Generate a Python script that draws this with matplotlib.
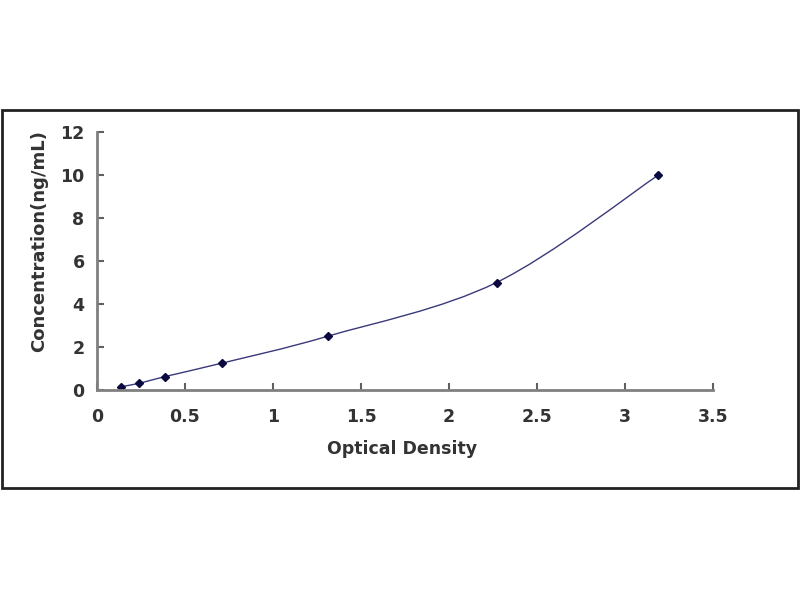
import matplotlib
matplotlib.use("Agg")
import matplotlib.pyplot as plt
from matplotlib.patches import Rectangle, PathPatch
from matplotlib.path import Path

# standard curve points
od = [0.136, 0.24, 0.386, 0.71, 1.31, 2.27, 3.19]
conc = [0.156, 0.312, 0.625, 1.25, 2.5, 5.0, 10.0]

xticks = [0, 0.5, 1, 1.5, 2, 2.5, 3, 3.5]
xtick_labels = ["0", "0.5", "1", "1.5", "2", "2.5", "3", "3.5"]
yticks = [0, 2, 4, 6, 8, 10, 12]

plt.rcParams["font.family"] = ["DejaVu Sans"]
plt.rcParams["font.weight"] = "bold"

fig = plt.figure(figsize=(8, 6), dpi=100)
fig.patches.append(Rectangle((2 / 800, 112 / 600), 796 / 800, 378 / 600,
                             transform=fig.transFigure, fill=False,
                             edgecolor="#222222", linewidth=2))

ax = fig.add_axes([97 / 800, 210 / 600, 616 / 800, 258 / 600])

# smoothed line like a spreadsheet chart (bezier through the points)
verts = [(od[0], conc[0])]
codes = [Path.MOVETO]
n = len(od)
for i in range(n - 1):
    x0, y0 = od[max(i - 1, 0)], conc[max(i - 1, 0)]
    x1, y1 = od[i], conc[i]
    x2, y2 = od[i + 1], conc[i + 1]
    x3, y3 = od[min(i + 2, n - 1)], conc[min(i + 2, n - 1)]
    verts += [(x1 + (x2 - x0) / 6, y1 + (y2 - y0) / 6),
              (x2 - (x3 - x1) / 6, y2 - (y3 - y1) / 6),
              (x2, y2)]
    codes += [Path.CURVE4] * 3
ax.add_patch(PathPatch(Path(verts, codes), fill=False,
                       edgecolor="#3a3a7a", linewidth=1.0))
ax.plot(od, conc, linestyle="none", marker="D", markersize=4,
        markerfacecolor="#0a0a40", markeredgecolor="#0a0a40")

ax.set_xlim(0, 3.5)
ax.set_ylim(0, 12)
ax.set_xticks(xticks)
ax.set_xticklabels(xtick_labels)
ax.set_yticks(yticks)

for side in ["top", "right"]:
    ax.spines[side].set_visible(False)
for side in ["left", "bottom"]:
    ax.spines[side].set_color("#808080")
    ax.spines[side].set_linewidth(2)

ax.tick_params(direction="in", length=5, width=1.5, color="#606060",
               labelsize=12.5, labelcolor="#333333")
ax.tick_params(axis="x", pad=13)
ax.tick_params(axis="y", pad=9)

ax.set_xlabel("Optical Density", fontsize=12.5, fontweight="bold",
              color="#333333")
ax.set_ylabel("Concentration(ng/mL)", fontsize=13, fontweight="bold",
              color="#333333")
ax.xaxis.set_label_coords(0.495, -0.195)
ax.yaxis.set_label_coords(-0.08, 0.578)

fig.savefig("out.png", dpi=100)
